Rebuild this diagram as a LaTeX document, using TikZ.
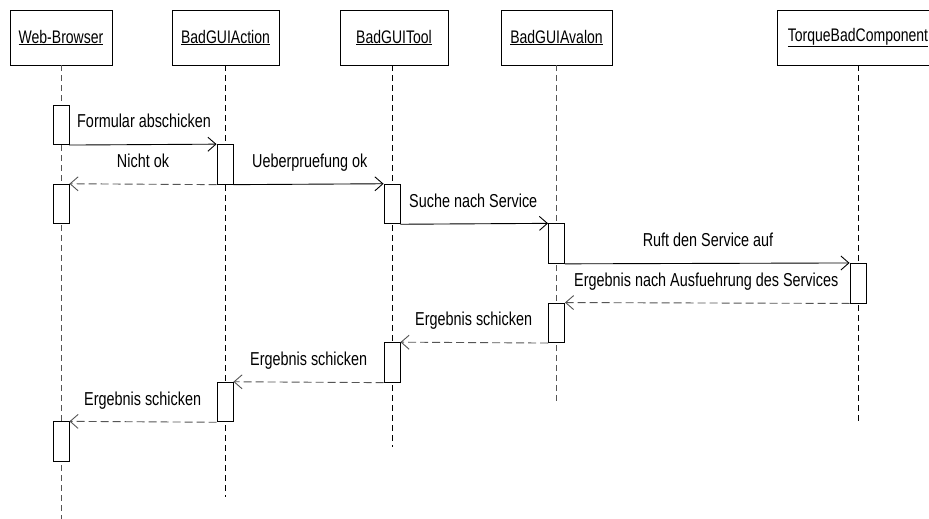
\documentclass[tikz,border=0pt]{standalone}
\usepackage{fontspec}
\setmainfont[FakeStretch=0.77]{Liberation Sans}
\usetikzlibrary{arrows.meta}
\definecolor{linegray}{HTML}{555555}
\begin{document}
\begin{tikzpicture}[x=1pt,y=-1pt,
  every node/.style={font=\fontsize{18.7}{20}\selectfont},
  head/.style={draw=black,line width=0.8pt,fill=white,minimum height=55pt,inner sep=0pt,
    font=\fontsize{18.2}{20}\selectfont},
  life/.style={dashed,dash pattern=on 6pt off 4pt,line width=0.9pt},
  act/.style={draw=black,line width=0.9pt,fill=white,minimum width=16pt,minimum height=39.6pt,inner sep=0pt},
  call/.style={line width=0.9pt,-{Straight Barb[length=8pt,width=14pt]}},
  reply/.style={line width=0.9pt,draw=linegray,dash pattern=on 8pt off 4pt,-{Straight Barb[length=8pt,width=14pt]}},
  lbl/.style={anchor=base west,inner sep=0pt},
  lblc/.style={anchor=base,inner sep=0pt}]
\useasboundingbox (0,0) rectangle (929,519);
\clip (0,0) rectangle (929,519);
\fill[white] (0,0) rectangle (929,519);

% object heads
\node[head,minimum width=102pt] (wb) at (61,37.5) {\underline{Web-Browser}};
\node[head,minimum width=107pt] (ga) at (225.5,37.5) {\underline{BadGUIAction}};
\node[head,minimum width=108pt] (gt) at (394,37.5) {\underline{BadGUITool}};
\node[head,minimum width=111pt] (av) at (556.5,37.5) {\underline{BadGUIAvalon}};
\node[head,minimum width=162pt] (tb) at (858,37.5) {\underline{TorqueBadComponent}};

% lifeline ends
\coordinate (wbE) at (61,519);
\coordinate (gaE) at (225.5,497);
\coordinate (gtE) at (392,447);
\coordinate (avE) at (556.5,403);
\coordinate (tbE) at (858,422);

\draw[life,draw=linegray] (wb.south -| wbE) -- (wbE);
\draw[life] (ga.south -| gaE) -- (gaE);
\draw[life] (gt.south -| gtE) -- (gtE);
\draw[life,draw=linegray] (av.south -| avE) -- (avE);
\draw[life] (tb.south -| tbE) -- (tbE);

% activations
\node[act] (wb1) at (61,124.8) {};
\node[act] (ga1) at (225,164.4) {};
\node[act] (wb2) at (61,204) {};
\node[act] (gt1) at (392,204) {};
\node[act] (av1) at (556.5,243.6) {};
\node[act] (tq1) at (858,283.2) {};
\node[act] (av2) at (556.5,322.8) {};
\node[act] (gt2) at (392,362.4) {};
\node[act] (ga2) at (225,402) {};
\node[act] (wb3) at (61,441.6) {};

% messages
\draw[call] (wb1.south east) -- (ga1.north west);
\draw[reply] (ga1.south west) -- (wb2.north east);
\draw[call] (ga1.south east) -- (gt1.north west);
\draw[call] (gt1.south east) -- (av1.north west);
\draw[call] (av1.south east) -- (tq1.north west);
\draw[reply] (tq1.south west) -- (av2.north east);
\draw[reply] (av2.south west) -- (gt2.north east);
\draw[reply] (gt2.south west) -- (ga2.north east);
\draw[reply] (ga2.south west) -- (wb3.north east);

% message labels
\node[lbl] (l1) at (77,127.8) {Formular abschicken};
\node[lblc] (l2) at (143,167.4) {Nicht ok};
\node[lbl] (l3) at (252,167.4) {Ueberpruefung ok};
\node[lbl] (l4) at (409,207) {Suche nach Service};
\node[lblc] (l5) at (708,246.6) {Ruft den Service auf};
\node[lbl] (l6) at (574,286.2) {Ergebnis nach Ausfuehrung des Services};
\node[lbl] (l7) at (415,325.8) {Ergebnis schicken};
\node[lbl] (l8) at (250,365.4) {Ergebnis schicken};
\node[lbl] (l9) at (84,405) {Ergebnis schicken};
\end{tikzpicture}
\end{document}
